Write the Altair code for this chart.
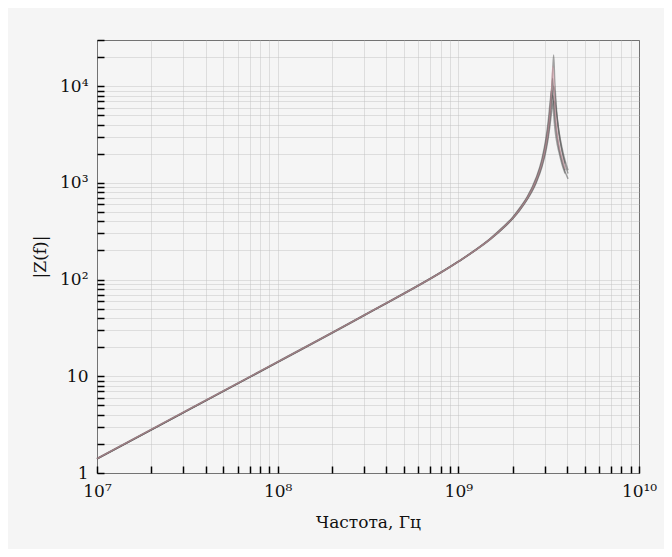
import altair as alt
import pandas as pd

# frequency grid (Hz)
freq = [1e7, 3e7, 1e8, 3e8, 1e9, 1.25e9, 1.5e9, 1.75e9, 2e9, 2.2e9, 2.4e9, 2.7e9, 2.9e9,
        3.05e9, 3.15e9, 3.22e9, 3.28e9, 3.33e9, 3.37e9, 3.42e9, 3.5e9, 3.6e9, 3.75e9,
        3.9e9, 4.05e9]

c1 = [1.40, 4.20, 14.0, 42.5, 154, 205, 266, 345, 442, 560, 712, 1140, 1760,
      2850, 4500, 6800, 9000, 7600, 5200, 3700, 2700, 2100, 1550, 1250, None]
c2 = [1.41, 4.22, 14.1, 42.8, 154, 204, 264, 341, 436, 550, 700, 1110, 1680,
      2650, 4000, 5900, 9200, 12000, 8800, 5300, 3400, 2400, 1750, 1350, None]
c3 = [1.39, 4.18, 13.9, 42.2, 152, 202, 261, 335, 430, 537, 682, 1056, 1565,
      2360, 3490, 5180, 8700, 14500, 21000, 11000, 5600, 3400, 2150, 1580, None]
c4 = [1.40, 4.21, 14.0, 42.6, 153, 203, 262, 338, 433, 543, 690, 1080, 1620,
      2500, 3700, 5400, 7400, 8000, 6900, 4800, 3200, 2300, 1650, 1300, 1100]
c5 = [1.42, 4.25, 14.2, 43.0, 154, 203, 261, 334, 428, 533, 675, 1030, 1500,
      2230, 3200, 4500, 6600, 9000, 10000, 8600, 5000, 3200, 2100, 1550, 1250]
c6 = [1.40, 4.19, 14.0, 42.4, 153, 201, 259, 331, 425, 527, 665, 1005, 1450,
      2100, 2950, 4000, 5300, 6400, 7000, 6800, 5200, 3500, 2300, 1700, 1350]
c7 = [1.41, 4.23, 14.1, 42.7, 153.5, 203, 262, 337, 432, 540, 686, 1070, 1590,
      2420, 3600, 5400, 9000, 16000, 12000, 6400, 3600, 2500, 1800, 1400, None]

curves = {"s1": c1, "s2": c2, "s3": c3, "s4": c4, "s5": c5, "s6": c6, "s7": c7}
curve_colors = ["#5a5a5a", "#5a5a5a", "#5a5a5a", "#5a5a5a", "#5a5a5a", "#5a5a5a", "#d79aa6"]

# axis ticks and labels
x_major = [10**7, 10**8, 10**9, 10**10]
x_labels = ["10⁷", "10⁸", "10⁹", "10¹⁰"]
y_major = [1, 10, 100, 1000, 10000]
y_labels = ["1", "10", "10²", "10³", "10⁴"]
mults = [1, 2, 3, 4, 5, 6, 7, 8, 9]

x_ticks = [m * d for d in x_major[:-1] for m in mults] + [x_major[-1]]
y_ticks = [m * d for d in y_major[:-1] for m in mults] + [10000, 20000, 30000]

rows = []
for name, vals in curves.items():
    for f, z in zip(freq, vals):
        if z is not None:
            rows.append({"curve": name, "f": f, "z": z})
df = pd.DataFrame(rows)


def label_expr(vals, labels):
    return " : ".join(f"datum.value == {v} ? '{l}'" for v, l in zip(vals, labels)) + " : ''"


FONT = "DejaVu Serif"

chart = alt.Chart(df).mark_line(strokeWidth=1.4, opacity=0.55, interpolate="monotone").encode(
    x=alt.X("f:Q",
            scale=alt.Scale(type="log", domain=[1e7, 1e10]),
            axis=alt.Axis(values=x_ticks, labelExpr=label_expr(x_major, x_labels),
                          title="Частота, Гц", offset=-7, domain=False,
                          tickSize=7, tickWidth=1.5, tickColor="black",
                          labelPadding=10, labelFlush=False, labelOverlap=False,
                          titlePadding=15)),
    y=alt.Y("z:Q",
            scale=alt.Scale(type="log", domain=[1, 30000]),
            axis=alt.Axis(values=y_ticks, labelExpr=label_expr(y_major, y_labels),
                          title="|Z(f)|", offset=-7, domain=False,
                          tickSize=7, tickWidth=1.5, tickColor="black",
                          labelPadding=9, labelFlush=False, labelOverlap=False,
                          titlePadding=10)),
    color=alt.Color("curve:N", scale=alt.Scale(domain=list(curves.keys()), range=curve_colors),
                    legend=None),
).properties(
    width=542, height=433,
    background="#f5f5f5",
    padding={"left": 89, "top": 32, "right": 25, "bottom": 76},
    autosize=alt.AutoSizeParams(type="none"),
).configure_view(
    stroke="#333333", strokeWidth=1
).configure_axis(
    grid=True, gridColor="#c0c0c0", gridOpacity=0.45, gridWidth=1,
    labelFont=FONT, labelFontSize=17, labelColor="#111111",
    titleFont=FONT, titleFontSize=17, titleFontWeight="normal", titleColor="#111111",
)

chart.save("out.html", embed_options={"renderer": "svg", "actions": False})
